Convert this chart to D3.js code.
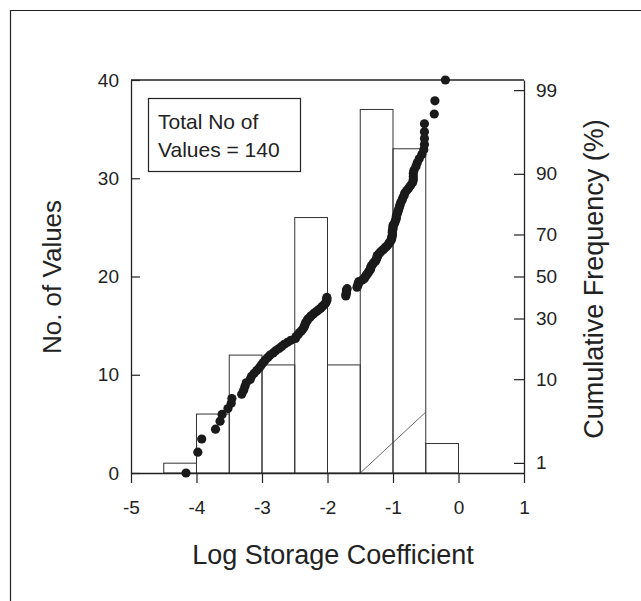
<!DOCTYPE html>
<html>
<head>
<meta charset="utf-8">
<style>
  body { margin: 0; background: #fff; }
  svg { display: block; font-family: "Liberation Sans", Arial, Helvetica, sans-serif; }
</style>
</head>
<body>
<svg></svg>
<script src="https://d3js.org/d3.v7.min.js"></script>
<script>

// histogram bins of log storage coefficient
const binStarts = [-4.5, -4, -3.5, -3, -2.5, -2, -1.5, -1, -0.5];
const binWidth = 0.5;
const counts = [1, 6, 12, 11, 26, 11, 37, 33, 3];

// sorted values (one dot per value)
const logS = [
  -4.16, -3.98, -3.92, -3.71, -3.64, -3.61, -3.52, -3.47, -3.46, -3.31,
  -3.28, -3.26, -3.24, -3.18, -3.16, -3.12, -3.08, -3.04, -3.01, -2.98,
  -2.95, -2.91, -2.88, -2.83, -2.79, -2.74, -2.70, -2.66, -2.61, -2.56,
  -2.49, -2.48, -2.45, -2.43, -2.40, -2.38, -2.36, -2.35, -2.34, -2.33,
  -2.31, -2.30, -2.27, -2.25, -2.22, -2.19, -2.16, -2.13, -2.10, -2.08,
  -2.05, -2.03, -2.02, -2.01, -2.01, -2.01, -1.72, -1.72, -1.71, -1.71,
  -1.71, -1.70, -1.55, -1.54, -1.53, -1.53, -1.52, -1.47, -1.44, -1.43,
  -1.41, -1.40, -1.38, -1.37, -1.35, -1.34, -1.34, -1.33, -1.31, -1.30,
  -1.27, -1.26, -1.25, -1.24, -1.24, -1.22, -1.20, -1.18, -1.15, -1.13,
  -1.10, -1.08, -1.06, -1.05, -1.03, -1.02, -1.02, -1.01, -1.01, -1.01,
  -1.01, -1.00, -1.00, -1.00, -0.98, -0.97, -0.96, -0.95, -0.95, -0.94,
  -0.93, -0.92, -0.91, -0.90, -0.89, -0.88, -0.86, -0.85, -0.83, -0.82,
  -0.79, -0.76, -0.73, -0.70, -0.69, -0.69, -0.69, -0.68, -0.65, -0.63,
  -0.60, -0.56, -0.53, -0.52, -0.52, -0.52, -0.52, -0.37, -0.36, -0.20
];

const xTicks = [-5, -4, -3, -2, -1, 0, 1];
const countTicks = [0, 10, 20, 30, 40];
const probTicks = [1, 10, 30, 50, 70, 90, 99];

// the thin diagonal stroke that sits inside the -1.5..-0.5 bars
const diagLine = [[-1.5, 0], [-0.5, 6.2]];

const width = 641, height = 601;
const margin = {top: 80, right: 117, bottom: 128, left: 131};

// inverse standard normal CDF (Acklam)
function probit(p) {
  const a = [-3.969683028665376e+01, 2.209460984245205e+02, -2.759285104469687e+02,
             1.383577518672690e+02, -3.066479806614716e+01, 2.506628277459239e+00];
  const b = [-5.447609879822406e+01, 1.615858368580409e+02, -1.556989798598866e+02,
             6.680131188771972e+01, -1.328068155288572e+01];
  const c = [-7.784894002430293e-03, -3.223964580411365e-01, -2.400758277161838e+00,
             -2.549732539343734e+00, 4.374664141464968e+00, 2.938163982698783e+00];
  const d = [7.784695709041462e-03, 3.224671290700398e-01, 2.445134137142996e+00,
             3.754408661907416e+00];
  const pl = 0.02425;
  let q, r;
  if (p < pl) {
    q = Math.sqrt(-2 * Math.log(p));
    return (((((c[0]*q+c[1])*q+c[2])*q+c[3])*q+c[4])*q+c[5]) /
           ((((d[0]*q+d[1])*q+d[2])*q+d[3])*q+1);
  }
  if (p > 1 - pl) {
    q = Math.sqrt(-2 * Math.log(1 - p));
    return -(((((c[0]*q+c[1])*q+c[2])*q+c[3])*q+c[4])*q+c[5]) /
            ((((d[0]*q+d[1])*q+d[2])*q+d[3])*q+1);
  }
  q = p - 0.5; r = q * q;
  return (((((a[0]*r+a[1])*r+a[2])*r+a[3])*r+a[4])*r+a[5])*q /
         (((((b[0]*r+b[1])*r+b[2])*r+b[3])*r+b[4])*r+1);
}

const n = logS.length;
const x0 = margin.left, x1 = width - margin.right;
const y0 = height - margin.bottom, y1 = margin.top;

const x = d3.scaleLinear().domain([-5, 1]).range([x0, x1]);
const yCount = d3.scaleLinear().domain([0, 40]).range([y0, y1]);
const yProb = d3.scaleLinear()
    .domain([probit(1 / (n + 1)), probit(n / (n + 1))])
    .range([y0, y1]);

const svg = d3.select("svg")
    .attr("width", width)
    .attr("height", height)
    .attr("viewBox", [0, 0, width, height]);

// figure frame (left and top edges only)
svg.append("path")
    .attr("d", `M10.5,${height} V10.5 H${width}`)
    .attr("fill", "none")
    .attr("stroke", "#222")
    .attr("stroke-width", 1.2);

// histogram bars
svg.append("g")
    .selectAll("rect")
    .data(binStarts)
    .join("rect")
        .attr("x", d => x(d))
        .attr("y", (d, i) => yCount(counts[i]))
        .attr("width", d => x(d + binWidth) - x(d))
        .attr("height", (d, i) => yCount(0) - yCount(counts[i]))
        .attr("fill", "none")
        .attr("stroke", "#333")
        .attr("stroke-width", 1);

svg.append("line")
    .attr("x1", x(diagLine[0][0])).attr("y1", yCount(diagLine[0][1]))
    .attr("x2", x(diagLine[1][0])).attr("y2", yCount(diagLine[1][1]))
    .attr("stroke", "#444")
    .attr("stroke-width", 0.8);

// plot box top edge
svg.append("line")
    .attr("x1", x0).attr("x2", x1)
    .attr("y1", y1).attr("y2", y1)
    .attr("stroke", "#222")
    .attr("stroke-width", 1.3);

// axes
const axisStyle = g => {
  g.select(".domain").attr("stroke", "#222").attr("stroke-width", 1.3);
  g.selectAll(".tick line").attr("stroke", "#222").attr("stroke-width", 1.2);
  g.selectAll(".tick text").attr("fill", "#222").style("font-size", "19px");
  g.attr("font-family", null);
};

svg.append("g")
    .attr("transform", `translate(0,${y0})`)
    .call(d3.axisBottom(x).tickValues(xTicks).tickFormat(d => String(d))
        .tickSize(10).tickSizeOuter(0).tickPadding(18))
    .call(axisStyle);

svg.append("g")
    .attr("transform", `translate(${x0},0)`)
    .call(d3.axisLeft(yCount).tickValues(countTicks)
        .tickSize(-9).tickSizeOuter(0).tickPadding(12))
    .call(axisStyle);

svg.append("g")
    .attr("transform", `translate(${x1},0)`)
    .call(d3.axisRight(yProb).tickValues(probTicks.map(p => probit(p / 100)))
        .tickFormat((d, i) => probTicks[i])
        .tickSize(-10).tickSizeOuter(0).tickPadding(12))
    .call(axisStyle);

// cumulative frequency dots
svg.append("g")
    .selectAll("circle")
    .data(logS)
    .join("circle")
        .attr("cx", d => x(d))
        .attr("cy", (d, i) => yProb(probit((i + 1) / (n + 1))))
        .attr("r", 4.6)
        .attr("fill", "#1a1a1a");

// annotation box
svg.append("rect")
    .attr("x", 148.5).attr("y", 98.5)
    .attr("width", 152).attr("height", 73)
    .attr("fill", "#fff")
    .attr("stroke", "#222")
    .attr("stroke-width", 1.2);

const note = svg.append("text")
    .attr("fill", "#222")
    .style("font-size", "21px");
note.append("tspan").attr("x", 158).attr("y", 128.5).text("Total No of");
note.append("tspan").attr("x", 158).attr("y", 156.5).text("Values = 140");

// axis titles
svg.append("text")
    .attr("x", 333).attr("y", 564)
    .attr("text-anchor", "middle")
    .attr("fill", "#222")
    .style("font-size", "27px")
    .text("Log Storage Coefficient");

svg.append("text")
    .attr("transform", "translate(61,277) rotate(-90)")
    .attr("text-anchor", "middle")
    .attr("fill", "#222")
    .style("font-size", "26px")
    .text("No. of Values");

svg.append("text")
    .attr("transform", "translate(603,279) rotate(-90)")
    .attr("text-anchor", "middle")
    .attr("fill", "#222")
    .style("font-size", "27px")
    .text("Cumulative Frequency (%)");

</script>
</body>
</html>
